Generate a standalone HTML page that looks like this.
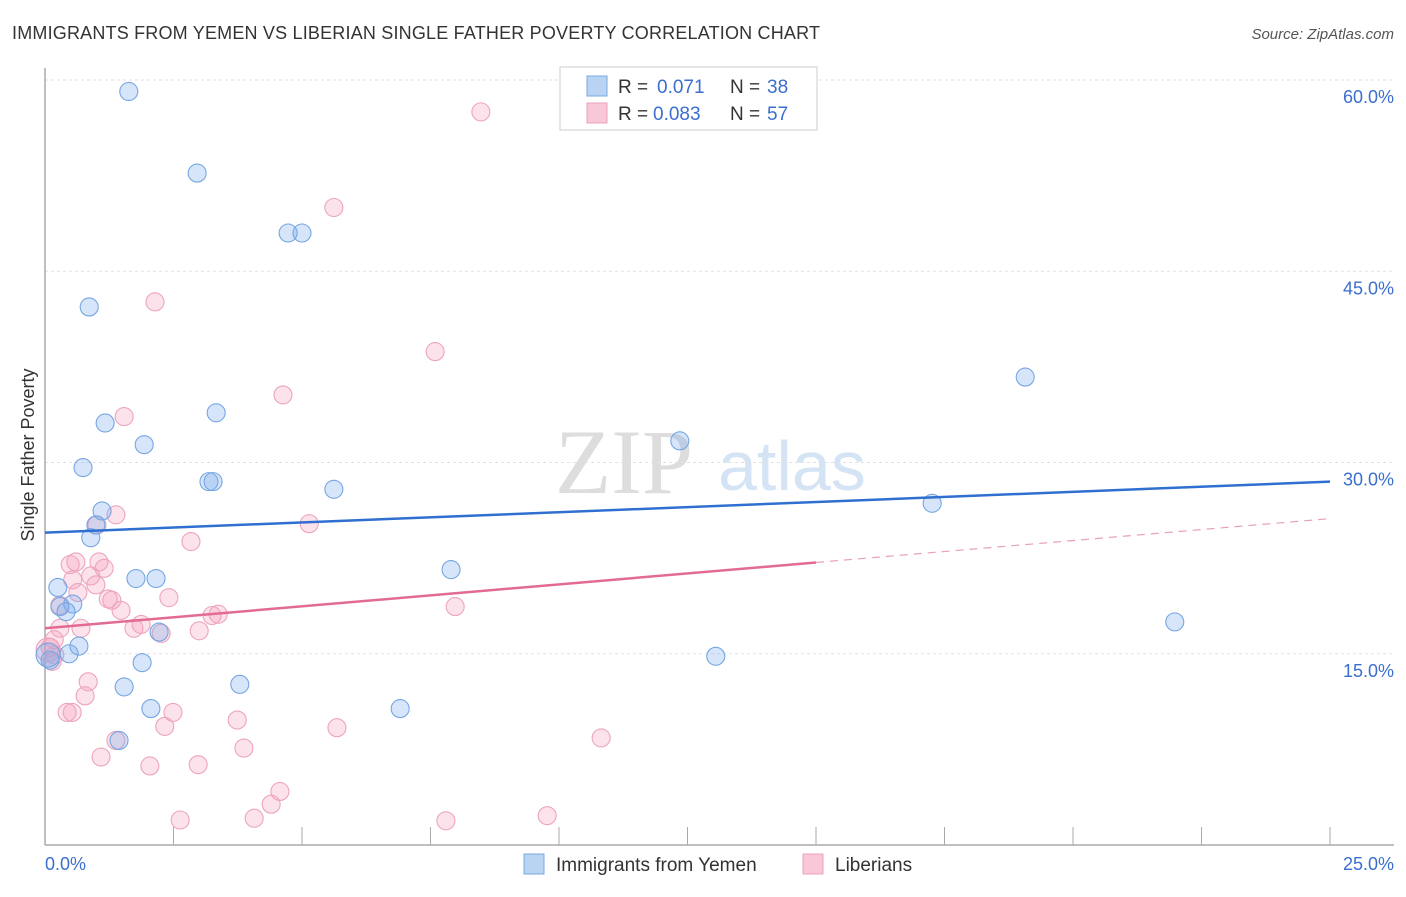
<!DOCTYPE html>
<html><head><meta charset="utf-8"><style>
body{margin:0;background:#fff;font-family:"Liberation Sans",sans-serif}
</style></head><body>
<svg width="1406" height="892" viewBox="0 0 1406 892" xmlns="http://www.w3.org/2000/svg">
<text x="12" y="39" font-size="18" fill="#333" textLength="808">IMMIGRANTS FROM YEMEN VS LIBERIAN SINGLE FATHER POVERTY CORRELATION CHART</text>
<text x="1394" y="39" font-size="15" fill="#555" font-style="italic" text-anchor="end">Source: ZipAtlas.com</text>
<text x="555" y="493" font-size="92" fill="#ddd" font-family="Liberation Serif,serif">ZIP</text>
<text x="718" y="490" font-size="70" fill="#d5e4f5">atlas</text>
<g id="grid"></g>
<g id="axes"></g>
<g id="pts"></g>
<g id="trend"></g>
<text x="34" y="455" font-size="18" fill="#333" transform="rotate(-90 34 455)" text-anchor="middle">Single Father Poverty</text>
<text x="45" y="870" font-size="18" fill="#3a6fd0">0.0%</text>
<text x="1394" y="870" font-size="18" fill="#3a6fd0" text-anchor="end">25.0%</text>
<g>
<rect x="560" y="67" width="257" height="63" fill="#fff" stroke="#ccc"/>
<rect x="587" y="76" width="20" height="20" fill="#b9d3f3" stroke="#7aa8e0"/>
<rect x="587" y="103" width="20" height="20" fill="#f8c8d8" stroke="#eba0bb"/>
<text y="93" font-size="19" fill="#333"><tspan x="618">R =</tspan><tspan x="657" fill="#3a6fd0">0.071</tspan><tspan x="730">N =</tspan><tspan x="767" fill="#3a6fd0">38</tspan></text>
<text y="120" font-size="19" fill="#333"><tspan x="618">R =</tspan><tspan x="653" fill="#3a6fd0">0.083</tspan><tspan x="730">N =</tspan><tspan x="767" fill="#3a6fd0">57</tspan></text>
</g>
<g>
<rect x="524" y="854" width="20" height="20" fill="#b9d3f3" stroke="#7aa8e0"/>
<text x="556" y="871" font-size="19" fill="#333">Immigrants from Yemen</text>
<rect x="803" y="854" width="20" height="20" fill="#f8c8d8" stroke="#eba0bb"/>
<text x="835" y="871" font-size="19" fill="#333">Liberians</text>
</g>
</svg>
<script>
const yTicks=[15,30,45,60];
const yTickLabels=["15.0%","30.0%","45.0%","60.0%"];
const blueX=[1.63,2.96,4.73,5.0,0.86,3.33,1.17,1.93,12.35,0.74,3.19,3.27,5.62,1.11,0.99,0.89,0.25,1.77,2.16,7.9,0.29,0.54,0.41,2.22,0.66,0.47,1.89,1.54,3.79,2.06,6.91,1.44,13.05,19.07,17.26,21.98,0.06,0.1];
const blueY=[59.1,52.7,48.0,48.0,42.2,33.9,33.1,31.4,31.7,29.6,28.5,28.5,27.9,26.2,25.1,24.1,20.2,20.9,20.9,21.6,18.7,18.9,18.3,16.7,15.6,15.0,14.3,12.4,12.6,10.7,10.7,8.2,14.8,36.7,26.8,17.5,14.9,14.5];
const pinkX=[8.48,5.62,2.14,7.59,4.63,1.54,1.38,1.01,5.14,2.84,0.6,1.05,1.15,0.89,0.54,0.99,0.64,1.23,1.3,2.41,1.48,3.25,3.37,7.98,1.73,1.87,2.26,3.0,0.7,0.29,0.18,0.1,0.14,0.84,0.78,0.43,0.53,2.49,3.74,2.33,5.68,1.38,3.87,1.09,10.82,2.04,2.98,4.57,4.4,2.63,4.07,7.8,9.77,0.29,0.49,0.06,0.19];
const pinkY=[57.5,50.0,42.6,38.7,35.3,33.6,25.9,25.1,25.2,23.8,22.2,22.2,21.7,21.1,20.8,20.4,19.8,19.3,19.2,19.4,18.4,18.0,18.1,18.7,17.0,17.3,16.6,16.8,17.0,17.0,16.1,15.5,14.4,12.8,11.7,10.4,10.4,10.4,9.8,9.3,9.2,8.2,7.6,6.9,8.4,6.2,6.3,4.2,3.2,1.96,2.1,1.9,2.3,18.8,22.0,15.3,14.9];
const blueTrend=[24.5,28.5];
const pinkTrend=[17.0,25.6];
const pinkSolidEnd=15;
const NS="http://www.w3.org/2000/svg";
const sx=v=>45+v*(1285/25);
const sy=v=>845-v*(765/60);
function mk(t,a,p){const e=document.createElementNS(NS,t);for(const k in a)e.setAttribute(k,a[k]);document.getElementById(p).appendChild(e);return e;}
yTicks.forEach((t,i)=>{
 const l=mk('line',{x1:45,x2:1394,y1:sy(t),y2:sy(t),stroke:'#e2e2e2','stroke-dasharray':'3,3'},'grid');
 
 
 const tx=mk('text',{x:1394,y:sy(t)+23,'font-size':18,fill:'#3a6fd0','text-anchor':'end'},'grid');
 tx.textContent=yTickLabels[i];
 
 
});
let ax=mk('line',{x1:45,x2:45,y1:68,y2:845,stroke:'#aaa','stroke-width':1.5},'axes');


ax=mk('line',{x1:45,x2:1394,y1:845,y2:845,stroke:'#aaa','stroke-width':1.5},'axes');


for(let i=1;i<=10;i++){
 const t=mk('line',{x1:sx(i*2.5),x2:sx(i*2.5),y1:827,y2:845,stroke:'#aaa'},'axes');
 
 
}
pinkX.forEach((x,i)=>{
 const c=mk('circle',{cx:sx(x),cy:sy(pinkY[i]),r:i>=55?(i==55?12:9):9,fill:'rgba(244,160,188,0.3)',stroke:'#eda4bd','stroke-width':1.1},'pts');
 
 
});
blueX.forEach((x,i)=>{
 const c=mk('circle',{cx:sx(x),cy:sy(blueY[i]),r:i==36?12:9,fill:'rgba(120,170,235,0.3)',stroke:'#76a6e2','stroke-width':1.1},'pts');
 
 
});
let tl=mk('line',{x1:sx(0),y1:sy(blueTrend[0]),x2:sx(25),y2:sy(blueTrend[1]),stroke:'#2f6fd0','stroke-width':2.5},'trend');


const pm=pinkTrend[0]+(pinkTrend[1]-pinkTrend[0])*pinkSolidEnd/25;
tl=mk('line',{x1:sx(0),y1:sy(pinkTrend[0]),x2:sx(pinkSolidEnd),y2:sy(pm),stroke:'#e36a93','stroke-width':2.5},'trend');


tl=mk('line',{x1:sx(pinkSolidEnd),y1:sy(pm),x2:sx(25),y2:sy(pinkTrend[1]),stroke:'#e8a0b8','stroke-width':1.2,'stroke-dasharray':'8,6'},'trend');


</script>
</body></html>
